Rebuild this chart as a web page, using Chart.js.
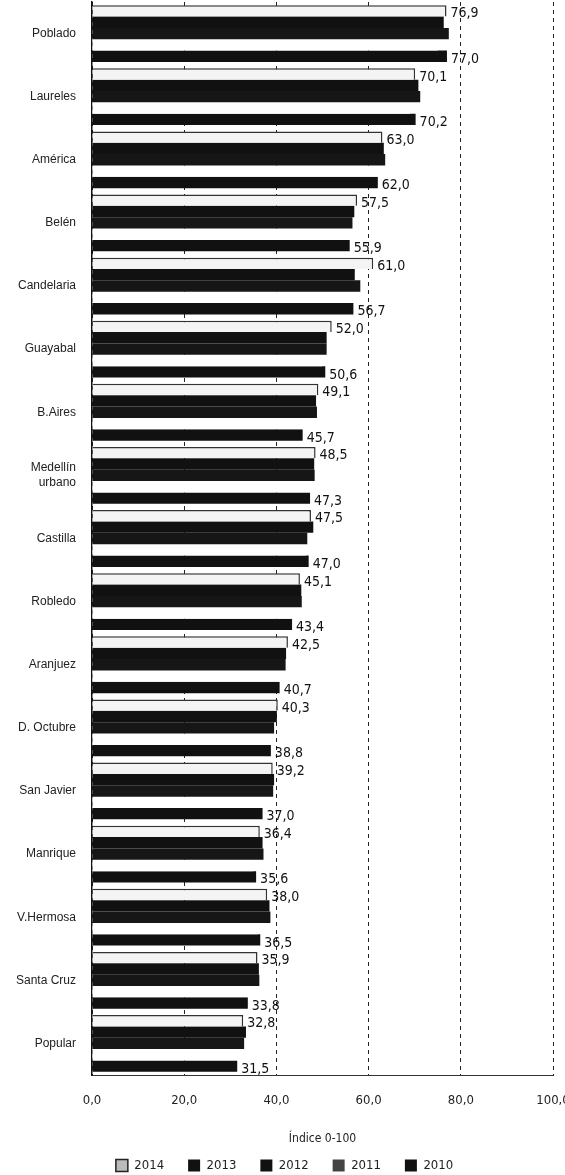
<!DOCTYPE html>
<html>
<head>
<meta charset="utf-8">
<script src="https://cdn.jsdelivr.net/npm/chart.js@4"></script>
<style>
    html, body { margin: 0; padding: 0; background: #fff; }
    #wrap { width: 565px; height: 1175px; }
</style>
</head>
<body>
<div id="wrap"><canvas id="chart"></canvas></div>
<script>
const comunas = ['Poblado', 'Laureles', 'América', 'Belén', 'Candelaria', 'Guayabal', 'B.Aires',
    ['Medellín', 'urbano'], 'Castilla', 'Robledo', 'Aranjuez', 'D. Octubre', 'San Javier',
    'Manrique', 'V.Hermosa', 'Santa Cruz', 'Popular'];

const years = ['2014', '2013', '2012', '2011', '2010'];

const values2014 = [76.9, 70.1, 63.0, 57.5, 61.0, 52.0, 49.1, 48.5, 47.5, 45.1, 42.5, 40.3, 39.2, 36.4, 38.0, 35.9, 32.8];
const values2013 = [76.3, 70.8, 63.3, 56.9, 57.0, 50.9, 48.6, 48.2, 48.0, 45.4, 42.1, 40.1, 39.5, 37.0, 38.5, 36.2, 33.4];
const values2012 = [77.4, 71.2, 63.6, 56.5, 58.2, 50.9, 48.8, 48.3, 46.7, 45.5, 42.0, 39.5, 39.3, 37.2, 38.7, 36.3, 33.0];
const values2011 = [75.0, 69.0, 62.0, 55.5, 56.0, 50.0, 47.0, 47.5, 46.5, 44.0, 41.0, 39.0, 37.5, 35.0, 36.0, 34.0, 32.0];
const values2010 = [77.0, 70.2, 62.0, 55.9, 56.7, 50.6, 45.7, 47.3, 47.0, 43.4, 40.7, 38.8, 37.0, 35.6, 36.5, 33.8, 31.5];

const xTicks = [0, 20, 40, 60, 80, 100];

// which series get a value label (first and last year only)
const labelled = ['2014', '2010'];

const NARROW = '"DejaVu Sans Condensed", "Liberation Sans", Arial, sans-serif';
const SANS = '"Liberation Sans", Arial, sans-serif';

const fmt = v => v.toFixed(1).replace('.', ',');

const valueLabels = {
    id: 'valueLabels',
    afterDatasetsDraw(chart) {
        const ctx = chart.ctx;
        ctx.save();
        ctx.font = '14px ' + NARROW;
        ctx.fillStyle = '#111';
        ctx.textBaseline = 'middle';
        chart.data.datasets.forEach((ds, i) => {
            if (!labelled.includes(ds.label)) return;
            const meta = chart.getDatasetMeta(i);
            meta.data.forEach((bar, j) => {
                ctx.fillText(fmt(ds.data[j]), bar.x + 4, bar.y + 3);
            });
        });
        ctx.restore();
    }
};

const ctx = document.getElementById('chart').getContext('2d');

new Chart(ctx, {
    type: 'bar',
    data: {
        labels: comunas,
        datasets: [
            {
                label: years[0],
                data: values2014,
                backgroundColor: '#f4f4f4',
                borderColor: '#333',
                borderWidth: { top: 1.5, right: 1.5, bottom: 0, left: 0 }
            },
            { label: years[1], data: values2013, backgroundColor: '#111' },
            { label: years[2], data: values2012, backgroundColor: '#161616' },
            { label: years[3], data: values2011, backgroundColor: '#ffffff' },
            { label: years[4], data: values2010, backgroundColor: '#111' }
        ]
    },
    options: {
        indexAxis: 'y',
        responsive: true,
        maintainAspectRatio: false,
        animation: false,
        datasets: {
            bar: { categoryPercentage: 0.9, barPercentage: 1.0 }
        },
        layout: { padding: { top: 2, right: 0, left: 4, bottom: -7 } },
        plugins: {
            tooltip: { enabled: false },
            legend: {
                position: 'bottom',
                labels: {
                    color: '#222',
                    font: { size: 13, family: NARROW },
                    boxWidth: 12,
                    boxHeight: 12,
                    padding: 24,
                    generateLabels(chart) {
                        const items = Chart.defaults.plugins.legend.labels.generateLabels(chart);
                        items.forEach(it => {
                            if (it.text === '2014') { it.fillStyle = '#bbb'; it.strokeStyle = '#222'; it.lineWidth = 1.5; }
                            else if (it.text === '2011') { it.fillStyle = '#444'; }
                            else { it.fillStyle = '#111'; }
                        });
                        return items;
                    }
                }
            }
        },
        scales: {
            x: {
                min: 0,
                max: 100,
                afterBuildTicks(axis) {
                    axis.ticks = xTicks.map(v => ({ value: v }));
                },
                afterFit(scale) {
                    scale.paddingRight = 12;
                },
                grid: {
                    color: '#222',
                    lineWidth: 1,
                    drawTicks: false
                },
                border: { display: true, dash: [4, 4], color: '#333' },
                ticks: {
                    color: '#222',
                    padding: 18,
                    maxRotation: 0,
                    minRotation: 0,
                    font: { size: 13, family: NARROW },
                    callback: v => fmt(v)
                },
                title: {
                    display: true,
                    text: 'Índice 0-100',
                    color: '#222',
                    padding: { top: 5, bottom: -11 },
                    font: { size: 12, family: NARROW }
                }
            },
            y: {
                afterFit(scale) {
                    scale.paddingTop = 0;
                    scale.paddingBottom = 0;
                    scale.width = 88;
                },
                grid: { display: false, drawTicks: false },
                border: { display: true, color: '#111', width: 1.5 },
                ticks: {
                    color: '#222',
                    padding: 16,
                    font: { size: 12, family: SANS }
                }
            }
        }
    },
    plugins: [valueLabels]
});
</script>
</body>
</html>
